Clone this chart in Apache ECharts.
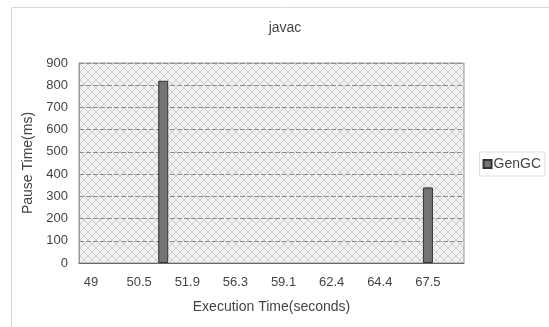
<!DOCTYPE html>
<html><head><meta charset="utf-8">
<script src="https://cdn.jsdelivr.net/npm/echarts@6/dist/echarts.min.js"></script>
<style>html,body{margin:0;padding:0;background:#fff}#c{width:549px;height:327px}</style>
</head><body><div id="c"></div>
<script>
// Visible tick labels (every other category is shown)
var tickLabels = ['49', '50.5', '51.9', '56.3', '59.1', '62.4', '64.4', '67.5'];
// Categories: labelled ones interleaved with unlabelled ones
var categories = [];
tickLabels.forEach(function (t) { categories.push(t); categories.push(''); });
var genGC = [0, 0, 0, 820, 0, 0, 0, 0, 0, 0, 0, 0, 0, 0, 340, 0];
var yTicks = [0, 100, 200, 300, 400, 500, 600, 700, 800, 900];

// crosshatch pattern for plot background
var pc = document.createElement('canvas');
pc.width = 8; pc.height = 8;
var g = pc.getContext('2d');
g.fillStyle = '#f1f1f1'; g.fillRect(0, 0, 8, 8);
g.strokeStyle = '#cccccc'; g.lineWidth = 1;
g.beginPath(); g.moveTo(0, 0); g.lineTo(8, 8); g.moveTo(8, 0); g.lineTo(0, 8); g.stroke();

var font = 'Liberation Sans';
var chart = echarts.init(document.getElementById('c'));
chart.setOption({
  animation: false,
  backgroundColor: '#fff',
  textStyle: { fontFamily: font },
  title: { text: 'javac', left: 280, top: 16, textAlign: 'center',
    textStyle: { fontSize: 14, fontWeight: 'normal', color: '#444', fontFamily: font } },
  graphic: [{ type: 'rect', shape: { x: 11.5, y: 7.5, width: 600, height: 400 },
    style: { fill: 'none', stroke: '#d8d8d8', lineWidth: 1 }, silent: true, z: -10 }],
  legend: { right: 4, top: 152, orient: 'vertical', itemWidth: 8, itemHeight: 8, itemGap: 4,
    padding: [5, 4, 5, 3], borderColor: '#ddd', borderWidth: 1, icon: 'rect',
    textStyle: { fontSize: 14, color: '#444', fontFamily: font, padding: [0, 0, 0, -3] },
    data: ['GenGC'] },
  grid: { left: 79, right: 85, top: 63, bottom: 64, show: true,
    backgroundColor: { image: pc, repeat: 'repeat' }, borderColor: '#999', borderWidth: 1 },
  xAxis: { type: 'category', data: categories,
    name: 'Execution Time(seconds)', nameLocation: 'middle', nameGap: 37,
    nameTextStyle: { fontSize: 14, color: '#444', fontFamily: font },
    axisLine: { lineStyle: { color: '#666' } }, axisTick: { show: false },
    axisLabel: { interval: 1, margin: 13, fontSize: 13, color: '#444', fontFamily: font } },
  yAxis: { type: 'value', min: yTicks[0], max: yTicks[yTicks.length - 1], interval: 100,
    name: 'Pause Time(ms)', nameLocation: 'middle', nameGap: 40,
    nameTextStyle: { fontSize: 14, color: '#444', fontFamily: font },
    axisLine: { show: true, lineStyle: { color: '#999' } }, axisTick: { show: false },
    axisLabel: { margin: 11, fontSize: 13, color: '#444', fontFamily: font },
    splitLine: { lineStyle: { color: '#8c8c8c', type: [5, 2] } } },
  series: [{ name: 'GenGC', type: 'bar', barWidth: 10,
    data: genGC.map(function (v) { return v === 0 ? { value: v, itemStyle: { borderWidth: 0 } } : v; }),
    itemStyle: { color: '#747474', borderColor: '#333', borderWidth: 1 } }]
});
</script></body></html>
